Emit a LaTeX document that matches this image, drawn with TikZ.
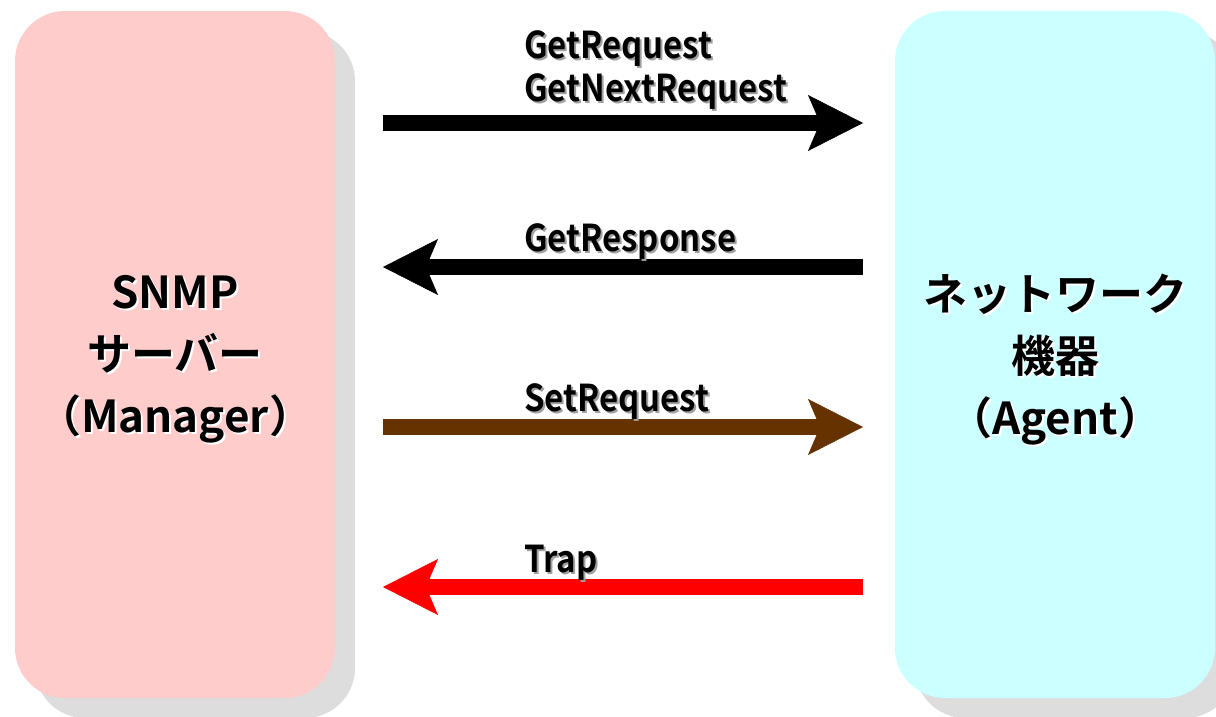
\documentclass[tikz,border=0pt]{standalone}
\usepackage{fontspec}
\setmainfont{Noto Sans CJK JP}[BoldFont={Noto Sans CJK JP Bold}]
\newfontfamily\narrowbold{Noto Sans CJK JP Bold}[FakeStretch=0.89]
\usetikzlibrary{arrows.meta, shadows}

\definecolor{mgrpink}{HTML}{FFCCCC}
\definecolor{agtcyan}{HTML}{CCFFFF}
\definecolor{boxshadow}{HTML}{DDDDDD}
\definecolor{txtshadow}{HTML}{A0A0A0}
\definecolor{setbrown}{HTML}{663300}

\tikzset{
  box/.style={rounded corners=50pt, minimum width=320pt, minimum height=687pt, inner sep=0pt,
    drop shadow={shadow xshift=20pt, shadow yshift=-20pt, fill=boxshadow, opacity=1}},
  msg/.style={line width=16pt, -{Stealth[length=55pt, width=56pt, inset=12pt, line width=0.5pt]}},
  lbl/.style={anchor=base west, inner sep=0pt, align=left, font=\narrowbold\fontsize{37}{43}\selectfont},
  title/.style={anchor=base, inner sep=0pt, align=center, font=\bfseries\fontsize{44}{62}\selectfont},
}

% text with a small drop shadow: name, position (last baseline), style, shadow colour, text
\newcommand\shadowtext[5]{%
  \node[#3, text=#4, xshift=2pt, yshift=-2pt] at #2 {#5};
  \node[#3] (#1) at #2 {#5};}

\begin{document}
\begin{tikzpicture}[x=1pt, y=-1pt]
  \useasboundingbox (0,0) rectangle (1216,717);
  \clip (0,0) rectangle (1216,717);

  % Manager und Agent
  \node[box, fill=mgrpink] (manager) at (175,354.5) {};
  \node[box, fill=agtcyan] (agent) at (1055,354.5) {};

  \shadowtext{mgrtitle}{(175,432)}{title}{white}{SNMP\\サーバー\\（Manager）}
  \shadowtext{agttitle}{(1055,434)}{title}{white}{ネットワーク\\機器\\（Agent）}

  % Endpunkte der Pfeile
  \foreach \nm/\y in {getreq/123, getrsp/267, setreq/427, trap/587} {
    \coordinate (\nm-m) at (383,\y);
    \coordinate (\nm-a) at (863,\y);
  }

  % Nachrichten
  \draw[msg] (getreq-m) -- (getreq-a);
  \draw[msg] (getrsp-a) -- (getrsp-m);
  \draw[msg, setbrown] (setreq-m) -- (setreq-a);
  \draw[msg, red] (trap-a) -- (trap-m);

  \shadowtext{getreqlbl}{(524,101)}{lbl}{txtshadow}{GetRequest\\GetNextRequest}
  \shadowtext{getrsplbl}{(524,251)}{lbl}{txtshadow}{GetResponse}
  \shadowtext{setreqlbl}{(524,411)}{lbl}{txtshadow}{SetRequest}
  \shadowtext{traplbl}{(524,572)}{lbl}{txtshadow}{Trap}

\end{tikzpicture}
\end{document}
